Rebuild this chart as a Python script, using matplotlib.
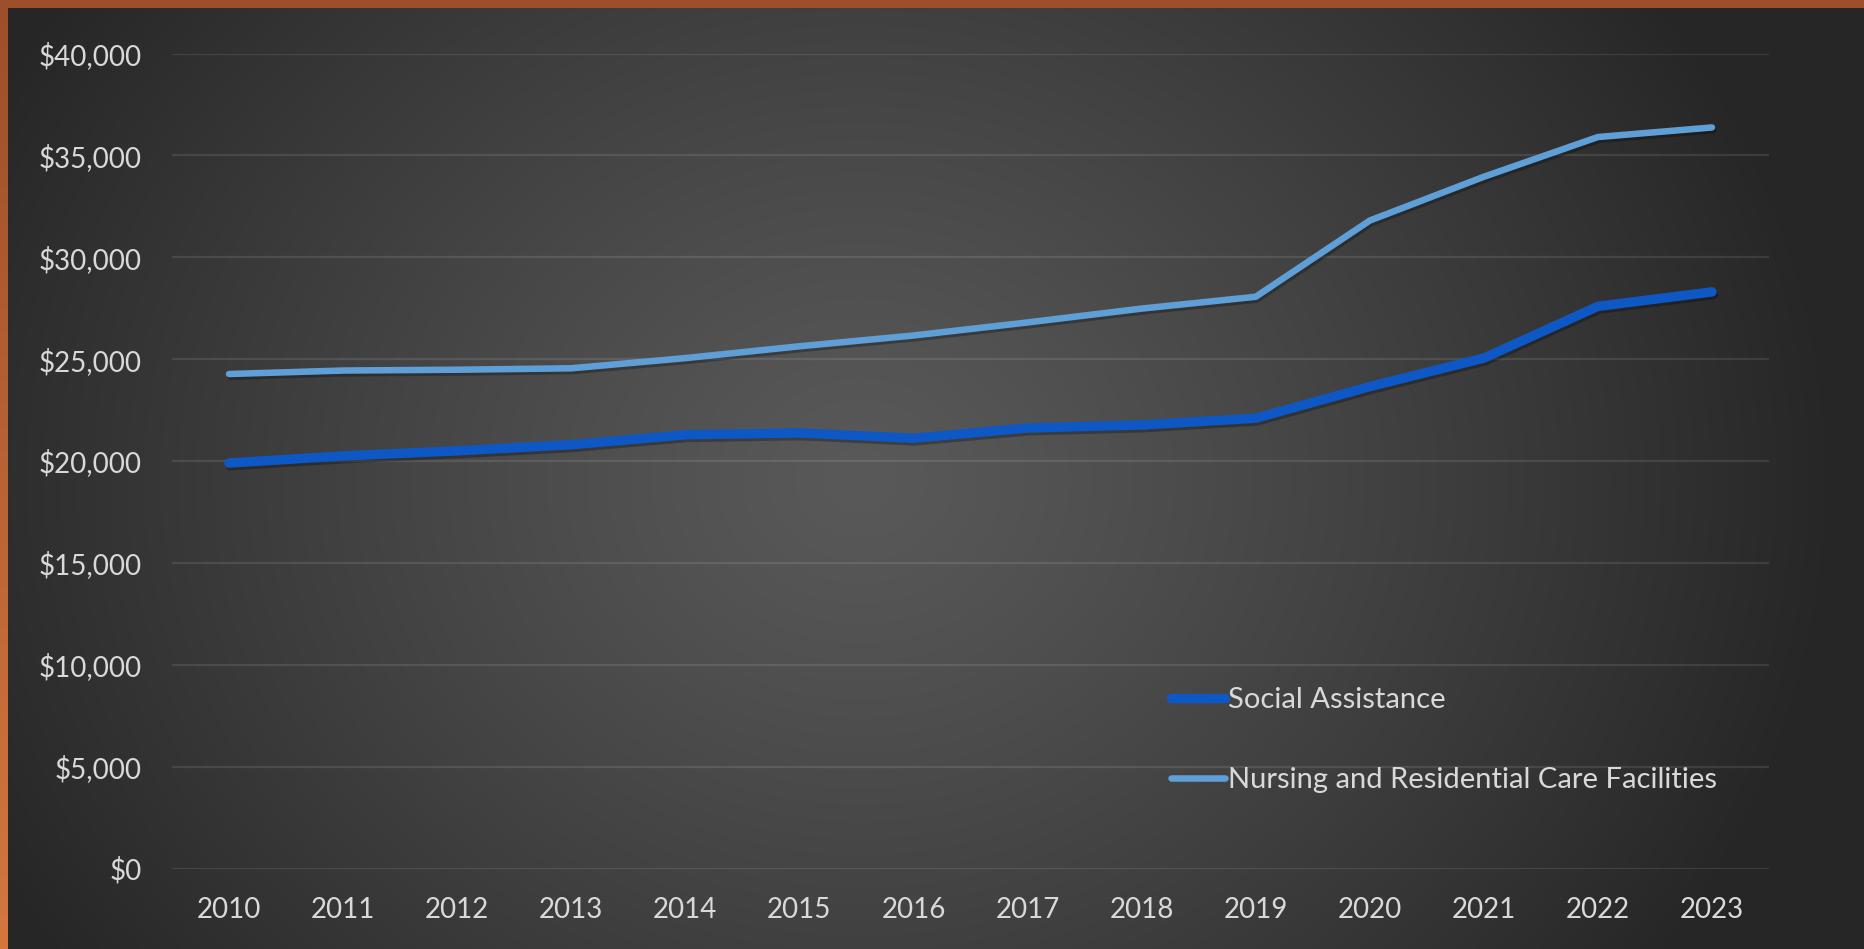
import numpy as np
import matplotlib
matplotlib.use("Agg")
import matplotlib.pyplot as plt
import matplotlib.patheffects as pe
from matplotlib.ticker import FuncFormatter

plt.rcParams['font.family'] = ['Lato', 'DejaVu Sans']

years = ['2010', '2011', '2012', '2013', '2014', '2015', '2016',
         '2017', '2018', '2019', '2020', '2021', '2022', '2023']
social_assistance = [19900, 20250, 20500, 20800, 21290, 21380, 21120,
                     21620, 21770, 22100, 23650, 25050, 27590, 28300]
nursing_care = [24270, 24440, 24480, 24550, 25050, 25630, 26160,
                26800, 27480, 28060, 31800, 33950, 35900, 36370]
y_ticks = [0, 5000, 10000, 15000, 20000, 25000, 30000, 35000, 40000]

text_color = '#D9D9D9'
W, H = 1864, 949

fig = plt.figure(figsize=(W / 100, H / 100), dpi=100)

# background: radial grey gradient with an orange frame on top and left
yy, xx = np.mgrid[0:H, 0:W]
r = np.sqrt((xx - 860) ** 2 + ((yy - 480) * 1.15) ** 2) / 980
r = np.clip(r, 0, 1)
g = (89 - (89 - 38) * r ** 1.2) / 255
bg = np.dstack([g, g, g])
top = np.array([0x9C, 0x4F, 0x2A]) / 255
bot = np.array([0xD4, 0x77, 0x3F]) / 255
bw = 8
bg[:bw, :, :] = top
t = (np.arange(H) / (H - 1))[:, None]
bg[:, :bw, :] = (top * (1 - t) + bot * t)[:, None, :]
bax = fig.add_axes([0, 0, 1, 1], zorder=-10)
bax.imshow(bg, aspect='auto', interpolation='bilinear')
bax.axis('off')

ax = fig.add_axes([172 / W, 1 - 868.5 / H, (1769 - 172) / W, (868.5 - 53.5) / H])
ax.patch.set_alpha(0)
x = np.arange(len(years))

shadow = [pe.SimpleLineShadow(offset=(1, -2), alpha=0.28, shadow_color='black'), pe.Normal()]
ax.plot(x, social_assistance, color='#0E58C6', lw=6.8, solid_capstyle='round',
        solid_joinstyle='round', label='Social Assistance', path_effects=shadow, zorder=3)
ax.plot(x, nursing_care, color='#5F9FD7', lw=4.7, solid_capstyle='round',
        solid_joinstyle='round', label='Nursing and Residential Care Facilities',
        path_effects=shadow, zorder=3)

ax.set_xlim(-0.5, len(years) - 0.5)
ax.set_ylim(0, 40000)
ax.set_xticks(x)
ax.set_xticklabels(years)
ax.set_yticks(y_ticks)
ax.yaxis.set_major_formatter(FuncFormatter(lambda v, p: '${:,.0f}'.format(v)))
ax.grid(axis='y', color='white', alpha=0.1, lw=1.6)
ax.set_axisbelow(True)
for s in ax.spines.values():
    s.set_visible(False)
ax.tick_params(axis='both', length=0, labelsize=20, colors=text_color)
ax.tick_params(axis='y', pad=22)
ax.tick_params(axis='x', pad=20.5)

leg = ax.legend(loc='center left', bbox_to_anchor=(0.6255, 0.158), frameon=False,
                fontsize=21, labelcolor=text_color, handlelength=1.85,
                handletextpad=0.1, labelspacing=1.85, borderpad=0, borderaxespad=0)
for h in leg.get_lines():
    h.set_solid_capstyle('round')
    h.set_path_effects([])

fig.savefig('out.png', dpi=100)
